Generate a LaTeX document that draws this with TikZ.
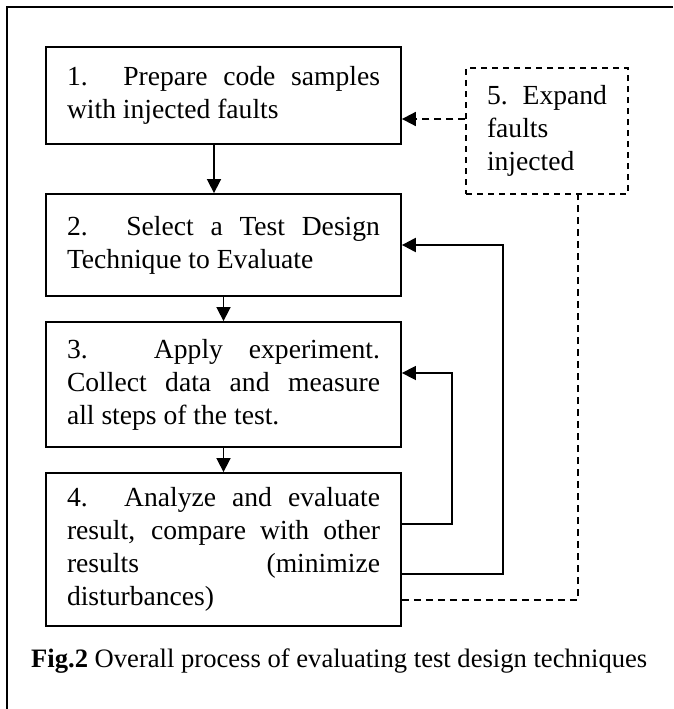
\documentclass[tikz,border=0pt]{standalone}
\usepackage{fontspec}
\setmainfont{Liberation Serif}
\usetikzlibrary{arrows.meta}

\tikzset{
  txt/.style={font=\fontsize{26.6}{33}\selectfont},
  boxtxt/.style={font=\fontsize{27.6}{33}\selectfont},
  stepbox/.style={boxtxt, draw, line width=1.8pt, rectangle, align=justify,
    inner xsep=21pt, inner ysep=0pt, text width=313pt, minimum width=355pt},
  extrabox/.style={boxtxt, draw, line width=1.3pt, dash pattern=on 6pt off 5pt,
    rectangle, align=justify, inner xsep=21pt, inner ysep=0pt,
    text width=120pt, minimum width=162pt, minimum height=126pt},
  tip/.style={-{Triangle[length=14pt,width=14pt]}},
  flow/.style={line width=1.6pt},
  loopback/.style={line width=2.2pt},
  dashflow/.style={line width=1.8pt, dash pattern=on 7pt off 5pt}
}

\begin{document}
\begin{tikzpicture}[x=1pt,y=-1pt]
  \useasboundingbox (0,0) rectangle (673,709);

  % frame edges
  \draw[line width=2pt] (673,7) -- (7,7) -- (7,709);

  % process steps
  \node[stepbox, minimum height=97pt] (b1) at (223.5,95.5)
    {1. Prepare code samples\linebreak with injected faults};
  \node[stepbox, minimum height=102pt] (b2) at (223.5,245)
    {2. Select a Test Design\linebreak Technique to Evaluate};
  \node[stepbox, minimum height=125pt] (b3) at (223.5,384.5)
    {3. Apply experiment.\linebreak Collect data and measure\linebreak all steps of the test.};
  \node[stepbox, minimum height=153pt] (b4) at (223.5,549.5)
    {4. Analyze and evaluate\linebreak result, compare with other\linebreak results (minimize\linebreak disturbances)};
  \node[extrabox] (b5) at (547,131)
    {5. Expand\linebreak faults\\ injected};

  % main flow
  \draw[flow, tip] ([xshift=-9.5pt]b1.south) -- ([xshift=-9.5pt]b1.south |- b2.north);
  \draw[flow, tip] (b2.south) -- (b3.north);
  \draw[flow, tip] (b3.south) -- (b4.north);

  % feedback loops
  \draw[flow, tip] ([yshift=25.5pt]b4.east) -- ++(50,0) |- ([yshift=11.5pt]b3.east);
  \draw[loopback, tip] ([yshift=-24.5pt]b4.east) -- ++(101,0) |- (b2.east);

  % fault expansion path
  \draw[dashflow] ([yshift=-50.5pt]b4.east) -| ([xshift=31pt]b5.south);
  \draw[dashflow, tip] ([yshift=12pt]b5.west) -- ([yshift=12pt]b5.west -| b1.east);

  % caption
  \node[txt, anchor=base west, inner sep=0pt] (cap) at (31,667)
    {\textbf{Fig.2} Overall process of evaluating test design techniques};
\end{tikzpicture}
\end{document}
